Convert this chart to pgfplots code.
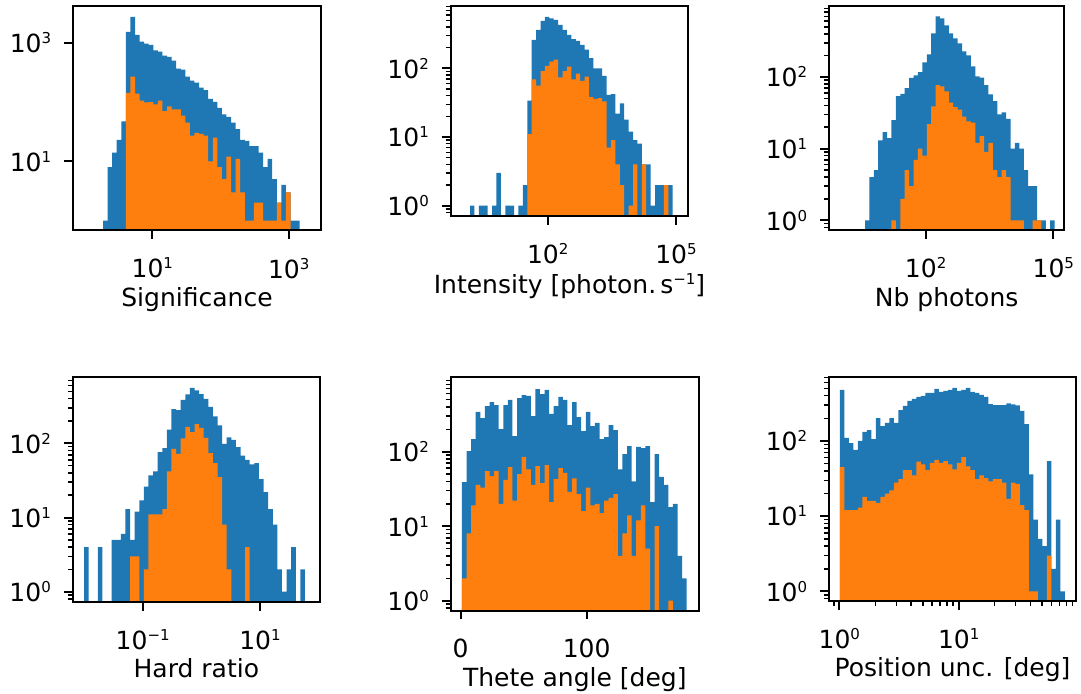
\documentclass[border=0pt]{standalone}
\usepackage{pgfplots}
\pgfplotsset{compat=1.18}
\usepackage{fontspec}
\setmainfont{DejaVu Sans}
\definecolor{tabblue}{HTML}{1F77B4}
\definecolor{taborange}{HTML}{FF7F0E}
\newcommand{\sps}[1]{\raisebox{0.36em}{\fontsize{7.5}{8}\selectfont #1}}
\pgfplotsset{
  myhistaxis/.style={
    scale only axis, axis on top, anchor=south west,
    tick align=outside, tick pos=left,
    axis line style={line width=1pt},
    major tick length=4.4pt, minor tick length=2.5pt,
    major tick style={black, line width=1pt},
    minor tick style={black, line width=0.75pt},
    tick label style={font=\fontsize{12.5}{15}\selectfont},
    label style={font=\fontsize{12.5}{15}\selectfont},
    xticklabel style={yshift=-6pt},
    yticklabel style={xshift=-3pt},
    xlabel style={at={(axis description cs:0.5,0)}, anchor=north, yshift=-25pt},
  },
  bluebars/.style={const plot mark left, fill=tabblue, draw=none, mark=none},
  orangebars/.style={const plot mark left, fill=taborange, draw=none, mark=none},
}
\begin{document}
\begin{tikzpicture}
\path[use as bounding box] (0,0) rectangle (540.5pt,346.5pt);
% Panel 1
\begin{axis}[myhistaxis, ymode=log, at={(36.5pt,231.5pt)}, width=124pt, height=112pt,
  xmin=-0.163, xmax=3.474, ymin=0.692, ymax=4169,
  xtick={1,3}, xticklabels={10\sps{1},10\sps{3}},
  ytick={10,1000}, yticklabels={10\sps{1},10\sps{3}},
  xlabel={Significance}]
\addplot[bluebars] coordinates {(0.2770,0.01) (0.2770,1) (0.3441,8) (0.4111,14) (0.4782,23) (0.5453,47) (0.6124,1530) (0.6794,2735) (0.7465,1362) (0.8136,1040) (0.8806,962) (0.9477,925) (1.0148,743) (1.0818,706) (1.1489,605) (1.2160,575) (1.2831,498) (1.3501,365) (1.4172,352) (1.4843,268) (1.5513,230) (1.6184,213) (1.6855,175) (1.7525,158) (1.8196,113) (1.8867,101) (1.9538,80) (2.0208,62) (2.0879,56) (2.1550,45) (2.2220,35) (2.2891,23) (2.3562,22) (2.4232,18) (2.4903,18) (2.5574,14) (2.6245,8) (2.6915,11) (2.7586,5) (2.8257,2) (2.8927,4) (2.9598,3) (3.0269,1) (3.0939,1) (3.1610,1) (3.1610,0.01)};
\addplot[orangebars] coordinates {(0.6124,0.01) (0.6124,143) (0.6794,268) (0.7465,139) (0.8136,106) (0.8806,99) (0.9477,100) (1.0148,91) (1.0818,106) (1.1489,70) (1.2160,84) (1.2831,75) (1.3501,75) (1.4172,59) (1.4843,45) (1.5513,27) (1.6184,30) (1.6855,29) (1.7525,27) (1.8196,10) (1.8867,25) (1.9538,8) (2.0208,5) (2.0879,12) (2.1550,3) (2.2220,11) (2.2891,3) (2.3562,1) (2.4232,1) (2.4903,2) (2.5574,2) (2.6245,1) (2.6915,1) (2.7586,1) (2.8257,2) (2.8927,1) (2.9598,3) (3.0269,3) (3.0269,0.01)};
\end{axis}
% Panel 2
\begin{axis}[myhistaxis, ymode=log, at={(225.35pt,238.5pt)}, width=118.8pt, height=105pt,
  xmin=-0.268, xmax=5.289, ymin=0.708, ymax=809,
  xtick={2,5}, xticklabels={10\sps{2},10\sps{5}},
  ytick={1,10,100}, yticklabels={10\sps{0},10\sps{1},10\sps{2}},
  minor ytick={0.8,0.9,2,3,4,5,6,7,8,9,20,30,40,50,60,70,80,90,200,300,400,500,600,700,800},
  xlabel={Intensity [photon.\,s\sps{−1}]}]
\addplot[bluebars] coordinates {(0.1840,0.01) (0.1840,1) (0.2870,0.01) (0.3900,1) (0.4931,1) (0.5961,0.01) (0.6991,1) (0.8021,3) (0.9051,0.01) (1.0082,1) (1.1112,1) (1.2142,0.01) (1.3172,1) (1.4202,2) (1.5233,34) (1.6263,260) (1.7293,363) (1.8323,491) (1.9353,561) (2.0384,536) (2.1414,507) (2.2444,430) (2.3474,363) (2.4504,307) (2.5535,266) (2.6565,252) (2.7595,220) (2.8625,187) (2.9655,141) (3.0686,100) (3.1716,100) (3.2746,78) (3.3776,41) (3.4806,42) (3.5837,22) (3.6867,31) (3.7897,18) (3.8927,12) (3.9957,9) (4.0988,8) (4.2018,4) (4.3048,4) (4.4078,1) (4.5108,2) (4.6139,2) (4.7169,2) (4.8199,2) (4.9229,2) (4.9229,0.01)};
\addplot[orangebars] coordinates {(1.5233,0.01) (1.5233,11) (1.6263,69) (1.7293,56) (1.8323,91) (1.9353,109) (2.0384,125) (2.1414,134) (2.2444,74) (2.3474,91) (2.4504,106) (2.5535,69) (2.6565,84) (2.7595,66) (2.8625,76) (2.9655,38) (3.0686,36) (3.1716,37) (3.2746,33) (3.3776,7) (3.4806,9) (3.5837,4) (3.6867,2) (3.7897,0.01) (3.8927,1) (3.9957,4) (4.0988,0.01) (4.2018,4) (4.3048,0.01) (4.4078,0.01) (4.5108,0.01) (4.6139,0.01) (4.7169,2) (4.8199,2) (4.8199,0.01)};
\end{axis}
% Panel 3
\begin{axis}[myhistaxis, ymode=log, at={(414.5pt,231.5pt)}, width=117.65pt, height=112pt,
  xmin=-0.271, xmax=5.258, ymin=0.733, ymax=977,
  xtick={2,5}, xticklabels={10\sps{2},10\sps{5}},
  ytick={1,10,100}, yticklabels={10\sps{0},10\sps{1},10\sps{2}},
  minor ytick={0.8,0.9,2,3,4,5,6,7,8,9,20,30,40,50,60,70,80,90,200,300,400,500,600,700,800,900},
  xlabel={Nb photons}]
\addplot[bluebars] coordinates {(0.5750,0.01) (0.5750,1) (0.6786,4) (0.7823,5) (0.8859,13) (0.9895,17) (1.0932,14) (1.1968,25) (1.3004,54) (1.4040,58) (1.5077,70) (1.6113,97) (1.7149,105) (1.8186,117) (1.9222,160) (2.0258,207) (2.1295,405) (2.2331,700) (2.3367,656) (2.4403,524) (2.5440,405) (2.6476,345) (2.7512,294) (2.8549,228) (2.9585,200) (3.0621,141) (3.1658,102) (3.2694,98) (3.3730,77) (3.4766,57) (3.5803,46) (3.6839,30) (3.7875,32) (3.8912,26) (3.9948,10) (4.0984,12) (4.2021,10) (4.3057,5) (4.4093,3) (4.5129,3) (4.6166,1) (4.7202,1) (4.8238,0.01) (4.9275,1) (5.0311,1) (5.0311,0.01)};
\addplot[orangebars] coordinates {(1.1968,0.01) (1.1968,1) (1.3004,0.01) (1.4040,2) (1.5077,5) (1.6113,3) (1.7149,7) (1.8186,10) (1.9222,8) (2.0258,22) (2.1295,39) (2.2331,77) (2.3367,74) (2.4403,63) (2.5440,44) (2.6476,38) (2.7512,35) (2.8549,28) (2.9585,24) (3.0621,23) (3.1658,12) (3.2694,15) (3.3730,9) (3.4766,12) (3.5803,5) (3.6839,4) (3.7875,5) (3.8912,4) (3.9948,1) (4.0984,1) (4.2021,1) (4.3057,0.01) (4.4093,0.01) (4.5129,1) (4.6166,1) (4.7202,1) (4.7202,0.01)};
\end{axis}
% Panel 4
\begin{axis}[myhistaxis, ymode=log, at={(36.35pt,45.65pt)}, width=123.65pt, height=112.2pt,
  xmin=-2.193, xmax=2.023, ymin=0.733, ymax=776,
  xtick={-1,1}, xticklabels={10\sps{−1},10\sps{1}},
  ytick={1,10,100}, yticklabels={10\sps{0},10\sps{1},10\sps{2}},
  minor ytick={0.8,0.9,2,3,4,5,6,7,8,9,20,30,40,50,60,70,80,90,200,300,400,500,600,700},
  xlabel={Hard ratio}]
\addplot[bluebars] coordinates {(-2.0000,0.01) (-2.0000,4) (-1.9215,0.01) (-1.8430,0.01) (-1.7646,4) (-1.6861,0.01) (-1.6076,0.01) (-1.5291,5) (-1.4506,5) (-1.3722,6) (-1.2937,13) (-1.2152,5) (-1.1367,12) (-1.0582,17) (-0.9798,26) (-0.9013,37) (-0.8228,42) (-0.7443,76) (-0.6658,86) (-0.5874,153) (-0.5089,290) (-0.4304,281) (-0.3519,384) (-0.2734,458) (-0.1950,557) (-0.1165,518) (-0.0380,462) (0.0405,396) (0.1190,309) (0.1974,231) (0.2759,175) (0.3544,98) (0.4329,120) (0.5114,111) (0.5898,89) (0.6683,68) (0.7468,60) (0.8253,52) (0.9038,54) (0.9822,33) (1.0607,22) (1.1392,13) (1.2177,8) (1.2962,2) (1.3746,1) (1.4531,2) (1.5316,4) (1.6101,0.01) (1.6886,2) (1.7670,2) (1.7670,0.01)};
\addplot[orangebars] coordinates {(-1.2152,0.01) (-1.2152,3) (-1.1367,3) (-1.0582,0.01) (-0.9798,2) (-0.9013,11) (-0.8228,11) (-0.7443,11) (-0.6658,13) (-0.5874,42) (-0.5089,84) (-0.4304,72) (-0.3519,117) (-0.2734,166) (-0.1950,142) (-0.1165,182) (-0.0380,161) (0.0405,118) (0.1190,74) (0.1974,54) (0.2759,35) (0.3544,8) (0.4329,2) (0.5114,0.01) (0.5898,0.01) (0.6683,0.01) (0.7468,4) (0.8253,4) (0.8253,0.01)};
\end{axis}
% Panel 5
\begin{axis}[myhistaxis, ymode=log, at={(225.35pt,41.15pt)}, width=124.15pt, height=116.7pt,
  xmin=-7.9, xmax=189.2, ymin=0.735, ymax=995,
  xtick={0,100}, xticklabels={0,100},
  ytick={1,10,100}, yticklabels={10\sps{0},10\sps{1},10\sps{2}},
  minor ytick={0.8,0.9,2,3,4,5,6,7,8,9,20,30,40,50,60,70,80,90,200,300,400,500,600,700,800,900},
  xlabel={Thete angle [deg]}]
\addplot[bluebars] coordinates {(1.06,0.01) (1.06,39) (4.70,102) (8.34,148) (11.98,341) (15.62,283) (19.26,410) (22.90,464) (26.54,423) (30.18,201) (33.82,423) (37.46,494) (41.10,162) (44.74,525) (48.38,576) (52.02,559) (55.66,301) (59.30,693) (62.94,594) (66.58,673) (70.22,321) (73.86,410) (77.50,542) (81.14,494) (84.78,228) (88.42,464) (92.06,292) (95.70,189) (99.34,341) (102.98,221) (106.62,243) (110.26,148) (113.90,157) (117.54,228) (121.18,195) (124.82,58) (128.46,93) (132.10,119) (135.74,40) (139.38,116) (143.02,112) (146.66,119) (150.30,21) (153.94,93) (157.58,46) (161.22,36) (164.86,18) (168.50,20) (172.14,4) (175.78,2) (179.42,2) (179.42,0.01)};
\addplot[orangebars] coordinates {(1.06,0.01) (1.06,2) (4.70,8) (8.34,19) (11.98,36) (15.62,33) (19.26,55) (22.90,47) (26.54,55) (30.18,20) (33.82,42) (37.46,62) (41.10,22) (44.74,50) (48.38,85) (52.02,58) (55.66,36) (59.30,64) (62.94,38) (66.58,66) (70.22,21) (73.86,43) (77.50,60) (81.14,52) (84.78,29) (88.42,44) (92.06,27) (95.70,16) (99.34,33) (102.98,19) (106.62,20) (110.26,15) (113.90,22) (117.54,24) (121.18,27) (124.82,4) (128.46,8) (132.10,14) (135.74,4) (139.38,12) (143.02,19) (146.66,5) (150.30,0.01) (153.94,10) (157.58,0.01) (161.22,0.01) (164.86,1) (168.50,1) (168.50,0.01)};
\end{axis}
% Panel 6
\begin{axis}[myhistaxis, ymode=log, at={(414.5pt,46.15pt)}, width=123.5pt, height=111.7pt,
  xmin=-0.0866, xmax=1.983, ymin=0.752, ymax=703,
  xtick={0,1}, xticklabels={10\sps{0},10\sps{1}},
  minor xtick={-0.04576,0.30103,0.47712,0.60206,0.69897,0.77815,0.84510,0.90309,0.95424,1.30103,1.47712,1.60206,1.69897,1.77815,1.84510,1.90309,1.95424},
  ytick={1,10,100}, yticklabels={10\sps{0},10\sps{1},10\sps{2}},
  minor ytick={0.8,0.9,2,3,4,5,6,7,8,9,20,30,40,50,60,70,80,90,200,300,400,500,600,700},
  xlabel={Position unc. [deg]}]
\addplot[bluebars] coordinates {(0.0050,0.01) (0.0050,477) (0.0427,110) (0.0804,94) (0.1181,76) (0.1558,100) (0.1935,132) (0.2312,139) (0.2689,106) (0.3066,202) (0.3443,158) (0.3820,174) (0.4197,202) (0.4574,174) (0.4951,258) (0.5328,292) (0.5705,341) (0.6082,362) (0.6459,385) (0.6836,397) (0.7213,435) (0.7590,435) (0.7967,492) (0.8344,449) (0.8721,463) (0.9098,477) (0.9475,507) (0.9852,463) (1.0229,477) (1.0606,507) (1.0983,449) (1.1360,435) (1.1737,409) (1.2114,385) (1.2491,310) (1.2868,301) (1.3245,301) (1.3622,301) (1.3999,317) (1.4376,307) (1.4753,298) (1.5130,251) (1.5507,168) (1.5884,36) (1.6261,9) (1.6638,5) (1.7015,4) (1.7392,54) (1.7769,2) (1.8146,9) (1.8523,1) (1.8900,1) (1.8900,0.01)};
\addplot[orangebars] coordinates {(0.0050,0.01) (0.0050,45) (0.0427,12) (0.0804,12) (0.1181,12) (0.1558,13) (0.1935,18) (0.2312,16) (0.2689,16) (0.3066,15) (0.3443,18) (0.3820,20) (0.4197,22) (0.4574,28) (0.4951,31) (0.5328,41) (0.5705,41) (0.6082,35) (0.6459,53) (0.6836,49) (0.7213,41) (0.7590,51) (0.7967,56) (0.8344,51) (0.8721,54) (0.9098,49) (0.9475,42) (0.9852,51) (1.0229,61) (1.0606,46) (1.0983,41) (1.1360,31) (1.1737,35) (1.2114,32) (1.2491,29) (1.2868,31) (1.3245,31) (1.3622,28) (1.3999,17) (1.4376,28) (1.4753,27) (1.5130,14) (1.5507,12) (1.5884,1) (1.6261,1) (1.6638,0.01) (1.7015,0.01) (1.7392,3) (1.7769,3) (1.7769,0.01)};
\end{axis}
\end{tikzpicture}
\end{document}
